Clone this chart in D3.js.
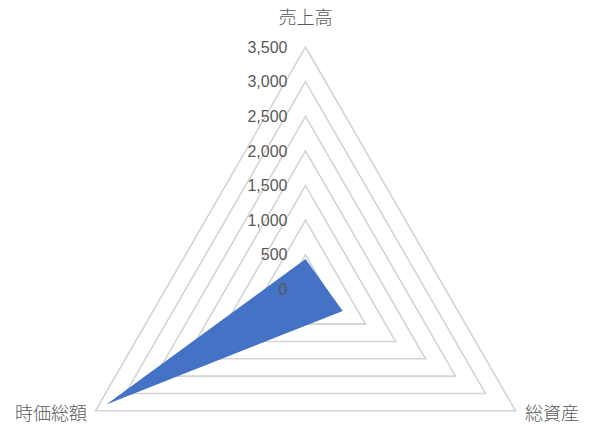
<!DOCTYPE html>
<html lang="ja">
<head>
<meta charset="UTF-8">
<title>レーダーチャート</title>
<script src="https://cdn.jsdelivr.net/npm/d3@7"></script>
<style>
    body { margin: 0; background: #fff; }
    .grid polygon { fill: none; stroke: #d4d4d4; stroke-width: 1.6; }
    .tick-label { fill: #595959; font-family: "Liberation Sans", "DejaVu Sans", sans-serif; font-size: 16px; }
    .cat-label { fill: #595959; font-family: "Noto Sans CJK JP", sans-serif; font-size: 18px; font-weight: 300; }
    .area { fill: #4472c4; }
</style>
</head>
<body>
<div id="chart"></div>
<script>
// data
var categories = ['売上高', '総資産', '時価総額'];
var values = [440, 620, 3320];
var ticks = [0, 500, 1000, 1500, 2000, 2500, 3000, 3500];

var width = 589, height = 432;
var cx = 305.5, cy = 289.5, R = 242.5;

var svg = d3.select('#chart').append('svg')
    .attr('width', width)
    .attr('height', height);

var r = d3.scaleLinear().domain([0, 3500]).range([0, R]);

// axis angles, top first, going clockwise
var angle = d3.scalePoint()
    .domain(categories)
    .range([0, 2 * Math.PI * (categories.length - 1) / categories.length]);

function pt(cat, v)
{
    var a = angle(cat) - Math.PI / 2;
    return [cx + r(v) * Math.cos(a), cy + r(v) * Math.sin(a)];
}

var grid = svg.append('g').attr('class', 'grid');
grid.selectAll('polygon')
    .data(ticks.filter(function(t) { return t > 0; }))
  .enter().append('polygon')
    .attr('points', function(t)
    {
        return categories.map(function(c) { return pt(c, t).join(','); }).join(' ');
    });

svg.append('path')
    .attr('class', 'area')
    .attr('d', d3.line()(categories.map(function(c, i) { return pt(c, values[i]); })) + 'Z');

svg.append('g').selectAll('text')
    .data(ticks)
  .enter().append('text')
    .attr('class', 'tick-label')
    .attr('x', cx - 18)
    .attr('y', function(t) { return cy - r(t); })
    .attr('dy', '0.35em')
    .attr('text-anchor', 'end')
    .text(function(t) { return d3.format(',')(t); });

// category labels
var labelPos = [
    { x: cx, y: 18, anchor: 'middle' },
    { x: 525, y: 414, anchor: 'start' },
    { x: 87, y: 414, anchor: 'end' }
];
svg.append('g').selectAll('text')
    .data(categories)
  .enter().append('text')
    .attr('class', 'cat-label')
    .attr('x', function(d, i) { return labelPos[i].x; })
    .attr('y', function(d, i) { return labelPos[i].y; })
    .attr('dy', '0.35em')
    .attr('text-anchor', function(d, i) { return labelPos[i].anchor; })
    .text(function(d) { return d; });
</script>
</body>
</html>
